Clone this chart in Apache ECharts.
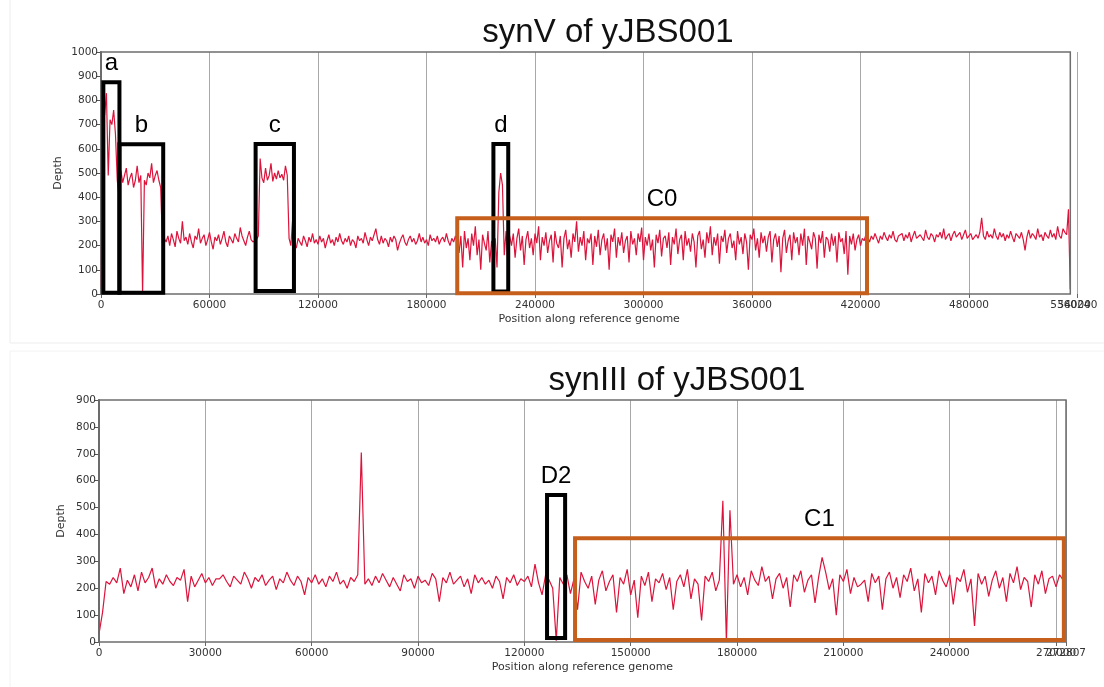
<!DOCTYPE html>
<html>
<head>
<meta charset="utf-8">
<script src="https://cdn.jsdelivr.net/npm/echarts@6/dist/echarts.min.js"></script>
<style>
html,body{margin:0;padding:0;background:#fff;}
#chart{width:1104px;height:687px;}
</style>
</head>
<body>
<div id="chart"></div>
<script>
// ---------- DATA ----------
// synV coverage, one value per 1000 bp window (position = index * topStep)
const topTitle = 'synV of yJBS001';
const topStep = 1000;
const topLength = 536024;
const topAxisMax = 540000;
const topDepth = [
 30,710,740,830,490,720,700,760,660,470,
 400,510,460,490,520,450,480,500,440,470,
 530,460,490,0,470,450,500,480,540,460,
 490,510,470,440,210,230,215,240,200,250,
 225,195,260,230,210,300,220,235,205,250,
 215,190,240,225,270,210,230,245,200,225,
 255,215,185,235,220,245,205,230,260,215,
 195,240,225,210,250,230,215,275,240,220,
 200,235,260,225,215,210,225,240,560,480,
 460,520,470,490,540,465,500,475,510,480,
 495,470,530,490,230,200,310,210,190,230,
 215,200,240,220,195,235,215,250,210,225,
 205,240,215,230,190,220,245,210,225,200,
 235,215,250,220,205,230,215,240,200,225,
 215,190,240,220,230,210,255,225,200,235,
 220,215,270,225,205,240,210,230,220,195,
 235,215,240,225,180,210,230,245,215,200,
 225,240,215,230,205,220,250,215,235,210,
 225,200,245,220,230,215,240,205,225,235,
 215,250,220,200,230,215,240,210,170,240,
 110,260,190,230,140,250,200,280,160,225,
 100,245,210,180,260,130,220,170,230,110,
 420,500,450,160,260,120,240,200,250,150,
 230,270,180,240,120,225,260,190,230,160,
 250,210,280,140,235,200,255,170,220,245,
 130,260,210,190,240,110,230,265,185,225,
 150,250,215,300,175,235,200,260,140,230,
 210,250,120,240,195,265,160,225,250,180,
 230,100,245,215,270,150,235,200,255,170,
 220,240,130,260,205,230,160,250,215,275,
 140,235,200,250,180,225,110,245,210,265,
 155,230,240,190,255,120,235,205,270,165,
 225,245,140,260,200,230,175,250,215,110,
 240,260,185,225,150,255,210,280,160,235,
 200,250,125,240,215,265,170,230,250,190,
 220,140,260,205,235,165,250,215,100,245,
 225,270,180,230,150,255,210,240,175,235,
 260,130,225,250,195,240,90,230,265,170,
 220,245,140,255,210,235,160,250,200,270,
 120,240,215,185,255,230,105,245,210,260,
 150,235,225,175,250,200,240,130,255,215,
 230,165,260,80,240,205,250,180,225,245,
 200,230,220,245,235,215,240,225,250,230,
 210,240,225,255,235,220,245,230,260,225,
 215,240,235,250,220,245,230,255,215,240,
 260,230,225,245,240,220,265,235,225,250,
 240,215,245,235,255,230,270,225,240,250,
 220,245,260,235,230,255,225,245,265,230,
 240,250,225,235,245,230,255,315,240,225,
 260,235,245,230,270,240,225,255,235,250,
 220,245,230,260,235,215,250,240,230,255,
 225,180,235,265,230,250,240,225,270,235,
 245,220,255,240,230,265,235,250,225,280,
 240,230,270,255,245,350,20
];
const topTickLabels = [0,60000,120000,180000,240000,300000,360000,420000,480000,536024];
const topEndLabel = [540000];
const topYTicks = [0,100,200,300,400,500,600,700,800,900,1000];
// annotation boxes: [label, startPos, endPos, lowDepth, highDepth, kind]
const topBoxes = [
 ['a', 1300, 10200, 5, 875, 'black'],
 ['b', 10200, 34400, 5, 619, 'black'],
 ['c', 85500, 106700, 12, 620, 'black'],
 ['d', 217000, 225200, 10, 620, 'black'],
 ['C0', 197000, 423600, 3, 313, 'orange']
];

// synIII coverage, one value per 1000 bp window
const botTitle = 'synIII of yJBS001';
const botStep = 1000;
const botLength = 272807;
const botAxisMax = 272807;
const botDepth = [
 30,110,225,215,240,220,275,180,230,205,
 250,190,260,220,240,275,200,235,215,250,
 225,210,240,230,270,150,245,205,230,255,
 220,240,210,235,235,250,225,205,245,230,
 215,260,235,200,240,225,250,210,230,245,
 195,235,220,260,230,210,245,225,175,240,
 220,250,215,235,205,245,225,260,215,230,
 200,240,225,250,705,215,235,210,245,220,
 255,230,205,240,215,190,250,225,235,200,
 245,220,230,210,255,235,150,240,220,260,
 215,230,245,205,235,180,250,220,240,215,
 230,200,245,225,160,240,220,250,210,235,
 225,245,205,290,220,175,250,230,200,5,
 240,215,250,180,235,120,260,225,200,245,
 140,230,265,190,225,250,110,240,215,270,
 175,230,90,245,210,260,150,235,220,255,
 195,240,120,225,250,205,270,160,235,215,
 80,245,225,260,190,230,525,0,490,215,
 250,205,240,175,265,230,210,280,225,245,
 160,235,255,200,240,130,250,225,265,185,
 230,250,145,240,315,260,195,235,100,250,
 225,270,180,240,205,215,230,150,255,220,
 245,120,235,260,200,240,165,250,225,275,
 190,235,110,255,220,245,175,265,230,205,
 250,140,240,225,270,185,235,60,255,215,
 245,170,230,265,200,240,150,255,220,280,
 195,240,225,130,250,215,265,180,235,245,
 205,250,230
];
const botTickLabels = [0,30000,60000,90000,120000,150000,180000,210000,240000,270000];
const botEndLabel = [272807];
const botYTicks = [0,100,200,300,400,500,600,700,800,900];
const botBoxes = [
 ['D2', 126400, 131500, 15, 547, 'black'],
 ['C1', 134300, 272200, 7, 386, 'orange']
];

// ---------- STYLE / BUILD ----------
const LINE_COLOR = '#dc143c';
const BOX_COLORS = {black: '#000000', orange: '#c55f1b'};
const TEXT = '#333';
const LABEL_FONT = 'DejaVu Sans';
const TITLE_FONT = 'Liberation Sans';

function series(depth, step) {
  return depth.map((v, i) => [i * step, v]);
}
function markAreaData(boxes, length, yMax) {
  const data = [[
    {xAxis: 0, yAxis: 0, itemStyle: {color: 'rgba(0,0,0,0)', borderColor: '#6e6e6e', borderWidth: 1.5}, label: {show: false}},
    {xAxis: length, yAxis: yMax}
  ]];
  boxes.forEach(b => {
    data.push([
      {name: b[0], xAxis: b[1], yAxis: b[3],
       itemStyle: {color: 'rgba(0,0,0,0)', borderColor: BOX_COLORS[b[5]], borderWidth: 4},
       label: {show: true, position: 'top', distance: 5, fontSize: 24, color: '#000', fontFamily: TITLE_FONT}},
      {xAxis: b[2], yAxis: b[4]}
    ]);
  });
  return data;
}
const labelStyle = {formatter: v => String(v), hideOverlap: false,
                    fontSize: 10.5, color: TEXT, fontFamily: LABEL_FONT, margin: 6};
function xAxis(gridIndex, max, interval, labels) {
  return {
    type: 'value', gridIndex, min: 0, max, interval,
    name: 'Position along reference genome', nameLocation: 'middle', nameGap: 20,
    nameMoveOverlap: false,
    nameTextStyle: {fontSize: 11, color: TEXT, fontFamily: LABEL_FONT},
    axisLine: {show: false},
    axisTick: {show: true, length: 4, lineStyle: {color: '#666'}},
    axisLabel: Object.assign({customValues: labels, showMinLabel: true, showMaxLabel: true}, labelStyle),
    splitLine: {show: true, lineStyle: {color: '#a8a8a8', width: 1}}
  };
}
// a second bottom axis on the same grid carries the overlapping end label
function xEndAxis(gridIndex, max, interval, labels) {
  return {
    type: 'value', gridIndex, min: 0, max, interval, position: 'bottom',
    axisLine: {show: false}, axisTick: {show: false}, splitLine: {show: false},
    axisLabel: Object.assign({customValues: labels, showMinLabel: true, showMaxLabel: true}, labelStyle)
  };
}
function yAxis(gridIndex, max, ticks, gap) {
  return {
    type: 'value', gridIndex, min: 0, max, interval: 100,
    name: 'Depth', nameLocation: 'middle', nameGap: gap,
    nameMoveOverlap: false,
    nameTextStyle: {fontSize: 11, color: TEXT, fontFamily: LABEL_FONT},
    axisLine: {show: true, lineStyle: {color: '#6a6a6a', width: 2}},
    axisTick: {show: true, length: 5, lineStyle: {color: '#555'}},
    axisLabel: {customValues: ticks, formatter: v => String(v), fontSize: 10.5, color: TEXT, fontFamily: LABEL_FONT, margin: 3},
    splitLine: {show: false}
  };
}

const chart = echarts.init(document.getElementById('chart'), null, {renderer: 'canvas'});
chart.setOption({
  animation: false,
  backgroundColor: '#fff',
  graphic: [
    {type: 'rect', shape: {x: 10, y: -2, width: 1100, height: 345}, style: {fill: 'none', stroke: '#ededed', lineWidth: 1}, silent: true},
    {type: 'rect', shape: {x: 10, y: 351, width: 1100, height: 340}, style: {fill: 'none', stroke: '#f2f2f2', lineWidth: 1}, silent: true}
  ],
  title: [
    {text: topTitle, left: 603, top: 11, textAlign: 'center',
     textStyle: {fontSize: 33, fontWeight: 'normal', color: '#111', fontFamily: TITLE_FONT}},
    {text: botTitle, left: 672, top: 359, textAlign: 'center',
     textStyle: {fontSize: 33, fontWeight: 'normal', color: '#111', fontFamily: TITLE_FONT}}
  ],
  grid: [
    {left: 101, top: 52, width: 976.5, height: 242},
    {left: 99, top: 400, width: 967, height: 242}
  ],
  xAxis: [
    xAxis(0, topAxisMax, 60000, topTickLabels),
    xAxis(1, botAxisMax, 30000, botTickLabels),
    xEndAxis(0, topAxisMax, 60000, topEndLabel),
    xEndAxis(1, botAxisMax, 30000, botEndLabel)
  ],
  yAxis: [
    yAxis(0, 1000, topYTicks, 37),
    yAxis(1, 900, botYTicks, 32)
  ],
  series: [
    {type: 'line', xAxisIndex: 0, yAxisIndex: 0, data: series(topDepth, topStep),
     showSymbol: false, symbol: 'none', lineStyle: {color: LINE_COLOR, width: 1.2}, z: 3,
     markArea: {silent: true, z: 4, data: markAreaData(topBoxes, topLength, 1000)}},
    {type: 'line', xAxisIndex: 1, yAxisIndex: 1, data: series(botDepth, botStep),
     showSymbol: false, symbol: 'none', lineStyle: {color: LINE_COLOR, width: 1.2}, z: 3,
     markArea: {silent: true, z: 4, data: markAreaData(botBoxes, botLength, 900)}}
  ]
});
</script>
</body>
</html>
